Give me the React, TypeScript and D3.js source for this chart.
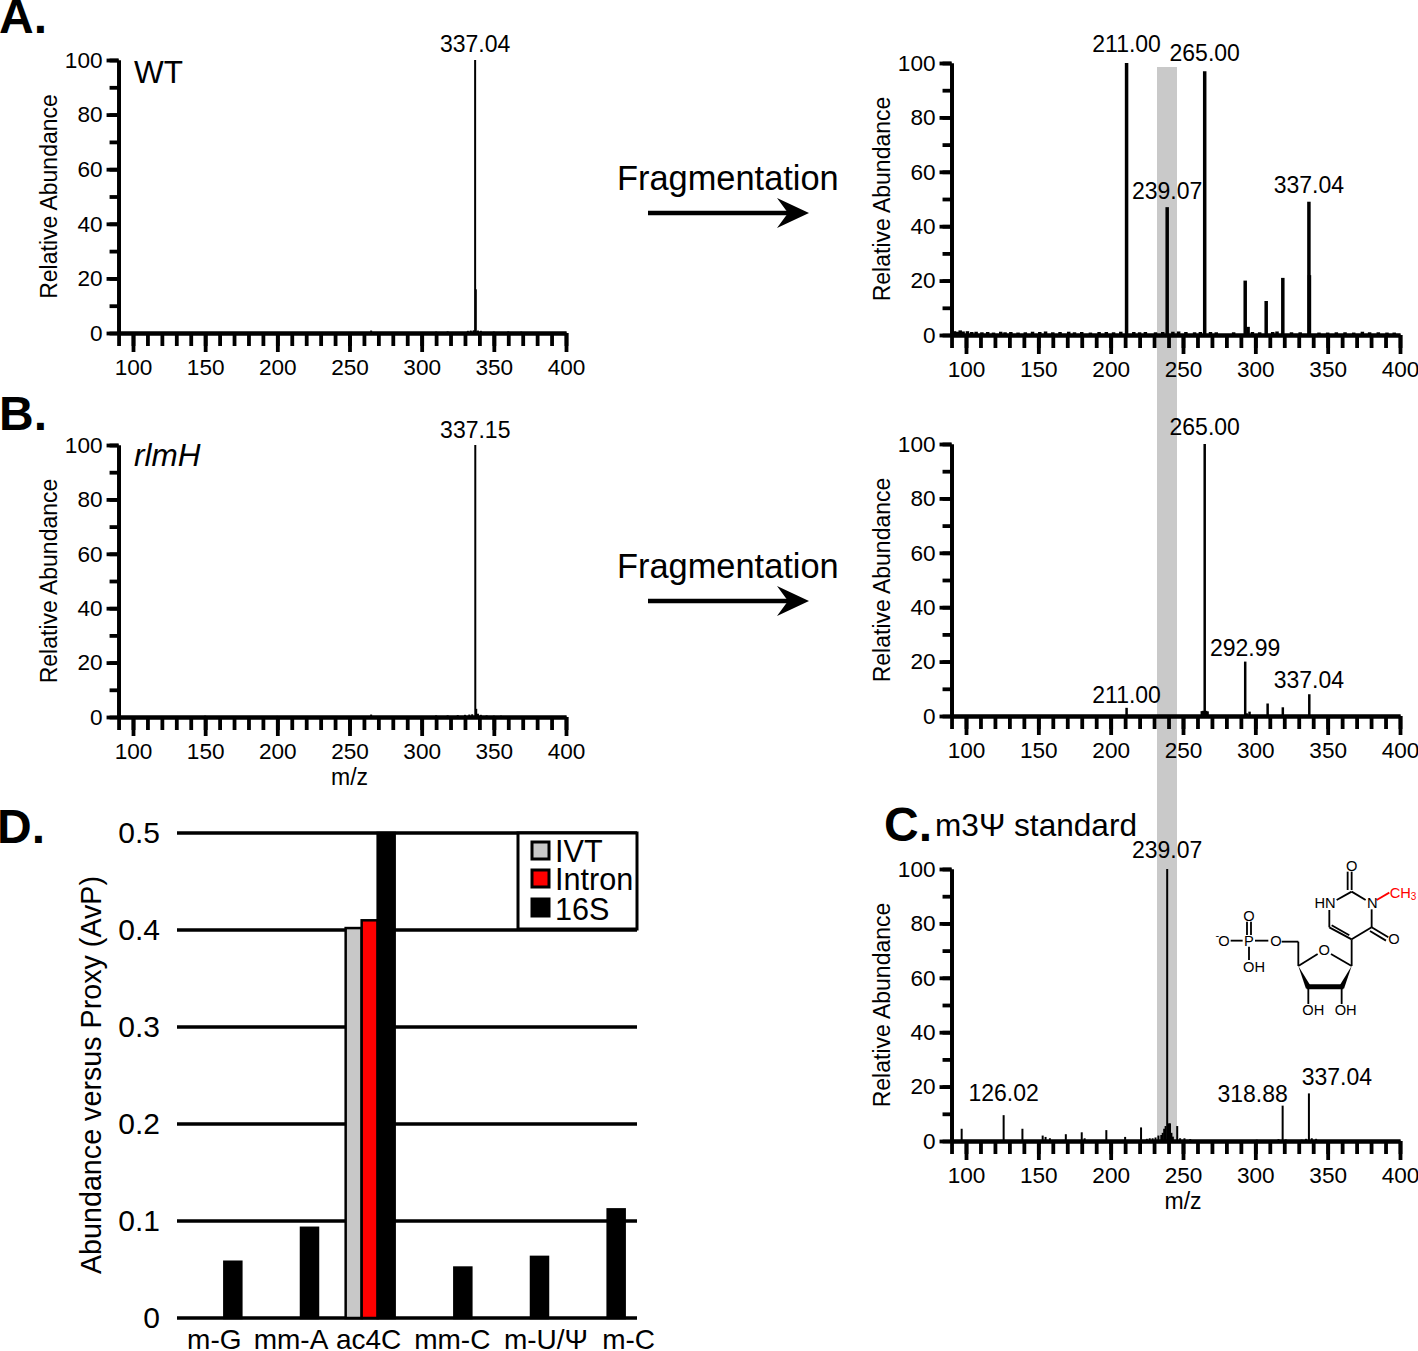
import React, { useEffect, useRef } from 'react';
import * as d3 from 'd3';

type Peak = [number, number];
type Label = { mz: number; value: number; dx?: number; dy?: number };

const FONT = '"Liberation Sans", Arial, sans-serif';

// spectra, [m/z, relative abundance]
const wtMs1: Peak[] = [
  [337.04, 100], [337.5, 16], [265, 0.9], [310, 0.5], [318, 0.6], [332, 0.8], [334, 0.9],
  [336, 1], [339, 0.9], [341, 0.8], [350, 0.5], [360, 0.6], [369, 0.5],
];
const wtMs2: Peak[] = [
  [211, 100], [239.07, 47], [265, 97], [293, 20], [307.5, 12.5], [319, 21], [337.04, 49], [337.4, 22],
  [295, 3], [92, 1.4], [94, 1.2], [96, 1.7], [98, 1.3], [101, 1.4], [104, 1.1], [107, 1.2], [111, 1], [115, 1.1],
  [119, 0.9], [124, 1.2], [127, 1], [131, 1.1], [136, 0.9], [141, 1], [146, 1.2], [151, 1.1], [155, 1.3],
  [160, 1], [165, 1.1], [171, 1.2], [175, 1], [180, 1.1], [186, 0.9], [192, 1.1], [197, 1.1], [202, 1],
  [207, 1.2], [216, 1.1], [220, 1], [224, 1.1], [231, 1], [236, 1.1], [243, 1.2], [247, 1.3], [252, 1.1],
  [258, 1], [262, 1.1], [269, 1.1], [273, 1], [285, 1], [298, 1.1], [303, 1], [312, 1.1], [315, 1.3],
  [325, 1], [331, 1], [344, 0.9], [350, 0.9], [356, 1], [362, 1], [368, 0.9], [374, 1.2], [379, 1],
  [385, 1], [391, 0.9], [396, 0.9],
];
const rlmHMs1: Peak[] = [
  [337.15, 100], [337.8, 3], [150, 0.5], [200, 0.4], [265, 0.9], [310, 0.6], [318, 0.6], [325, 0.7],
  [330, 0.8], [333, 0.9], [335, 1], [339, 1.2], [341, 0.8], [345, 0.6], [350, 0.5], [355, 0.5],
];
const rlmHMs2: Peak[] = [
  [211, 3], [263, 1.8], [264, 1.9], [265, 100], [266, 1.9], [267, 1.7], [293, 20], [296, 1.6],
  [308.5, 4.6], [319, 3.2], [337.3, 8], [294, 1],
];
const standardMs2: Peak[] = [
  [97, 4.5], [126.02, 9.5], [139, 4.5], [153, 2], [155, 1.5], [158, 1], [169, 2.5], [180, 3.2], [182, 1],
  [197, 4], [210, 1.5], [221, 5], [225, 0.8], [227, 1], [229, 1], [231, 1.3], [233, 2], [235, 2.2], [236, 3],
  [237, 4.5], [238, 5.5], [239.07, 100], [240, 6.5], [241, 6.5], [242, 3], [243, 1.6], [246, 5.5], [248, 1],
  [251, 1], [255, 0.7], [301, 0.5], [316, 0.7], [318.88, 13], [321, 0.6], [332, 0.5], [335, 0.8], [337.04, 17.5],
  [339, 1], [342, 0.8],
];

const wtMs1Labels: Label[] = [{ mz: 337.04, value: 100, dy: 8 }];
const wtMs2Labels: Label[] = [
  { mz: 211, value: 100, dy: 11 },
  { mz: 265, value: 97, dy: 10 },
  { mz: 239.07, value: 47 },
  { mz: 337.04, value: 49, dy: 9 },
];
const rlmHMs1Labels: Label[] = [{ mz: 337.15, value: 100, dy: 7 }];
const rlmHMs2Labels: Label[] = [
  { mz: 265, value: 100, dy: 9 },
  { mz: 292.99, value: 20, dy: 6 },
  { mz: 337.04, value: 8, dy: 6 },
  { mz: 211, value: 3, dy: 5 },
];
const standardLabels: Label[] = [
  { mz: 239.07, value: 100, dy: 11 },
  { mz: 126.02, value: 9.5, dy: 14 },
  { mz: 318.88, value: 13, dx: -30, dy: 4 },
  { mz: 337.04, value: 17.5, dx: 28, dy: 8 },
];

// panel D
const categories = ['m-G', 'mm-A', 'ac4C', 'mm-C', 'm-U/Ψ', 'm-C'];
const seriesNames = ['IVT', 'Intron', '16S'];
const ivtValues = [0, 0, 0.402, 0, 0, 0];
const intronValues = [0, 0, 0.41, 0, 0, 0];
const s16Values = [0.058, 0.093, 0.5, 0.052, 0.063, 0.112];
const seriesColors = ['#c8c8c8', '#ff0000', '#000000'];
const avpTicks = [0, 0.1, 0.2, 0.3, 0.4, 0.5];
const categoryNudge = [-1, -1, 0, 7, 24, 30];

const Axis = ({ axis, transform, width = 3.8, size = 22.6 }: any) => {
  const ref = useRef<SVGGElement>(null);
  useEffect(() => {
    const g = d3.select(ref.current as SVGGElement);
    g.call(axis);
    g.selectAll('path,line').attr('stroke', '#000').attr('stroke-width', width);
    g.selectAll('text').attr('fill', '#000').attr('font-family', FONT).attr('font-size', size);
  }, []);
  return <g ref={ref} transform={transform} fill="none" />;
};

const Spectrum = ({ x100, x400, y0, y100, peaks, labels, lineWidth, showMz }: any) => {
  const unit = (x400 - x100) / 300;
  const x = d3.scaleLinear().domain([90, 400]).range([x100 - 10 * unit, x400]);
  const y = d3.scaleLinear().domain([0, 100]).range([y0, y100]);
  const left = x(90);
  return (
    <g>
      {peaks.map((p: Peak, i: number) => (
        <line key={i} x1={x(p[0])} x2={x(p[0])} y1={y0} y2={y(p[1])} stroke="#000" strokeWidth={lineWidth} />
      ))}
      <Axis
        transform={`translate(0,${y0})`}
        axis={d3.axisBottom(x).tickValues(d3.range(90, 401, 10)).tickSize(13).tickSizeOuter(0).tickFormat(() => '')}
      />
      <Axis
        transform={`translate(0,${y0})`}
        axis={d3.axisBottom(x).tickValues(d3.range(100, 401, 50)).tickSize(19).tickPadding(7).tickSizeOuter(0)}
      />
      <Axis
        transform={`translate(${left},0)`}
        axis={d3.axisLeft(y).tickValues(d3.range(0, 101, 10)).tickSize(9).tickSizeOuter(0).tickFormat(() => '')}
      />
      <Axis
        transform={`translate(${left},0)`}
        axis={d3.axisLeft(y).tickValues(d3.range(0, 101, 20)).tickSize(12).tickPadding(4).tickSizeOuter(0)}
      />
      <text
        transform={`translate(${left - 62},${(y0 + y100) / 2}) rotate(-90)`}
        textAnchor="middle"
        fontFamily={FONT}
        fontSize={23}
      >
        Relative Abundance
      </text>
      {labels.map((l: Label) => (
        <text
          key={l.mz}
          x={x(l.mz) + (l.dx || 0)}
          y={y(l.value) - (l.dy === undefined ? 8 : l.dy)}
          textAnchor="middle"
          fontFamily={FONT}
          fontSize={23}
        >
          {d3.format('.2f')(l.mz)}
        </text>
      ))}
      {showMz && (
        <text x={x(250)} y={y0 + 68} textAnchor="middle" fontFamily={FONT} fontSize={23}>
          m/z
        </text>
      )}
    </g>
  );
};

const Arrow = ({ y }: { y: number }) => (
  <g>
    <text x={617} y={y - 23} fontFamily={FONT} fontSize={34.4}>
      Fragmentation
    </text>
    <line x1={648} x2={790} y1={y} y2={y} stroke="#000" strokeWidth={4.5} />
    <path d={`M809,${y}L777,${y - 15}L788,${y}L777,${y + 15}Z`} fill="#000" />
  </g>
);

const BarPanel = () => {
  const y = d3.scaleLinear().domain([0, 0.5]).range([1318, 833]);
  const x0 = d3.scaleBand().domain(categories).range([177, 637]);
  const x1 = d3.scaleBand().domain(seriesNames).range([-23, 25]);
  const series = [ivtValues, intronValues, s16Values];
  const legendY = [851, 879, 908];
  return (
    <g>
      {avpTicks.map((t) => (
        <g key={t}>
          <line x1={177} x2={637} y1={y(t)} y2={y(t)} stroke="#000" strokeWidth={3.4} />
          <text x={160} y={y(t) + 10} textAnchor="end" fontFamily={FONT} fontSize={30}>
            {d3.format('.1~f')(t)}
          </text>
        </g>
      ))}
      {series.map((vals, s) =>
        vals.map((v, c) =>
          v > 0 ? (
            <rect
              key={`${s}-${c}`}
              x={(x0(categories[c]) as number) + x0.bandwidth() / 2 + (x1(seriesNames[s]) as number)}
              width={x1.bandwidth() + (s === 2 ? 1 : 0)}
              y={y(v)}
              height={y(0) - y(v)}
              fill={seriesColors[s]}
              stroke="#000"
              strokeWidth={2.5}
            />
          ) : null
        )
      )}
      <text
        transform="translate(101,1075) rotate(-90)"
        textAnchor="middle"
        fontFamily={FONT}
        fontSize={28.7}
      >
        Abundance versus Proxy (AvP)
      </text>
      {categories.map((c, i) => (
        <text
          key={c}
          x={(x0(c) as number) + x0.bandwidth() / 2 + categoryNudge[i]}
          y={1349}
          textAnchor="middle"
          fontFamily={FONT}
          fontSize={28}
        >
          {c}
        </text>
      ))}
      <rect x={518} y={833} width={119} height={96} fill="#fff" stroke="#000" strokeWidth={3} />
      {seriesNames.map((name, i) => (
        <g key={name}>
          <rect
            x={532}
            y={legendY[i] - 9}
            width={17}
            height={17}
            fill={seriesColors[i]}
            stroke="#000"
            strokeWidth={3}
          />
          <text x={555} y={legendY[i] + (i === 2 ? 12 : 11)} fontFamily={FONT} fontSize={30.6}>
            {name}
          </text>
        </g>
      ))}
    </g>
  );
};

// m3Ψ monophosphate, drawn in its own local coordinates
const Molecule = () => {
  const bonds = [
    'M455,65V120', 'M443,65V120', 'M455,125L497,150', 'M455,125L410,150', 'M515,178V232',
    'M515,232L455,268', 'M515,232L565,262', 'M510,243L558,272', 'M455,268L388,232', 'M448,256L395,226',
    'M388,232V180', 'M455,268V348', 'M455,348L393,312', 'M353,312L295,348', 'M295,348V275',
    'M295,275H245', 'M205,272H165', 'M128,272H92', 'M147,290V330', 'M141,215V255', 'M153,215V255',
    'M325,412V462', 'M425,412V462',
  ];
  const atoms: [string, number, number][] = [
    ['O', 455, 62], ['HN', 375, 173], ['N', 517, 173], ['O', 582, 282], ['O', 373, 315],
    ['O', 228, 287], ['P', 147, 287], ['O', 147, 213], ['O', 72, 287], ['OH', 162, 365],
    ['OH', 340, 495], ['OH', 437, 495],
  ];
  return (
    <g transform="translate(1200,850) scale(0.3333)">
      {bonds.map((d) => (
        <path key={d} d={d} stroke="#000" strokeWidth={5.5} fill="none" />
      ))}
      <path d="M295,348L332,408L318,416Z" fill="#000" />
      <path d="M455,348L432,416L418,408Z" fill="#000" />
      <path d="M320,403H430V418H320Z" fill="#000" />
      <path d="M530,150L568,128" stroke="#ff0000" strokeWidth={5.5} />
      {atoms.map(([t, ax, ay], i) => (
        <text key={i} x={ax} y={ay} textAnchor="middle" fontFamily={FONT} fontSize={44}>
          {t}
        </text>
      ))}
      <text x={52} y={268} textAnchor="middle" fontFamily={FONT} fontSize={34}>
        -
      </text>
      <text x={569} y={143} fill="#ff0000" fontFamily={FONT} fontSize={44}>
        CH<tspan dy={8} fontSize={30}>3</tspan>
      </text>
    </g>
  );
};

const PanelLetter = ({ t, x, y }: { t: string; x: number; y: number }) => (
  <text x={x} y={y} fontFamily={FONT} fontSize={48} fontWeight="bold">
    {t}
  </text>
);

export default function App() {
  return (
    <svg
      width={1418}
      height={1351}
      style={{ position: 'absolute', left: 0, top: 0, display: 'block', background: '#fff' }}
    >
      <rect x={1157} y={67} width={20} height={1074} fill="#c9c9c9" />

      <Spectrum x100={133} x400={566} y0={333} y100={60} peaks={wtMs1} labels={wtMs1Labels} lineWidth={2} />
      <Spectrum x100={966} x400={1400} y0={335} y100={63} peaks={wtMs2} labels={wtMs2Labels} lineWidth={3.5} />
      <Spectrum x100={133} x400={566} y0={717} y100={445} peaks={rlmHMs1} labels={rlmHMs1Labels} lineWidth={2} showMz />
      <Spectrum x100={966} x400={1400} y0={716} y100={444} peaks={rlmHMs2} labels={rlmHMs2Labels} lineWidth={2.5} />
      <Spectrum x100={966} x400={1400} y0={1141} y100={869} peaks={standardMs2} labels={standardLabels} lineWidth={2} showMz />

      <text x={134} y={83} fontFamily={FONT} fontSize={31.5}>WT</text>
      <text x={134} y={466} fontFamily={FONT} fontSize={31.5} fontStyle="italic">rlmH</text>
      <text x={935} y={836} fontFamily={FONT} fontSize={31.6}>m3Ψ standard</text>

      <Arrow y={213} />
      <Arrow y={601} />

      <BarPanel />
      <Molecule />

      <PanelLetter t="A." x={-1} y={33} />
      <PanelLetter t="B." x={-1} y={430} />
      <PanelLetter t="C." x={884} y={841} />
      <PanelLetter t="D." x={-3} y={843} />
    </svg>
  );
}
